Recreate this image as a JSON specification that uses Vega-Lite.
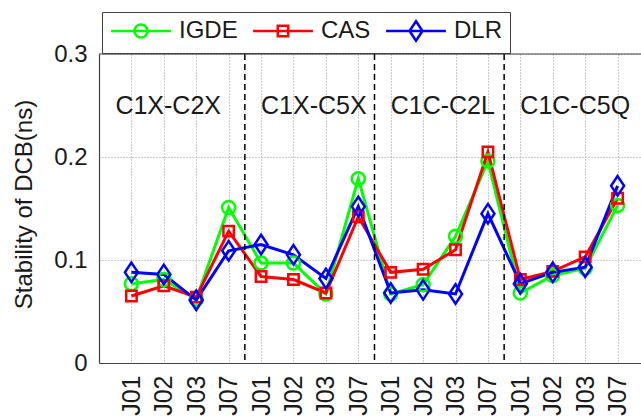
{
  "$schema": "https://vega.github.io/schema/vega-lite/v6.json",
  "width": 542,
  "height": 309,
  "autosize": "none",
  "padding": {"left": 99, "top": 54, "right": 0, "bottom": 55},
  "background": "white",
  "config": {
    "view": {"stroke": null},
    "font": "Liberation Sans",
    "legend": {"symbolOpacity": 1},
    "axisX": {
      "labelAngle": -90, "labelFontSize": 25, "labelColor": "#1a1a1a", "labelPadding": 12,
      "ticks": false, "domain": true, "domainColor": "#404040", "domainWidth": 1.2,
      "grid": true, "gridDash": [1, 2], "gridColor": "#9a9a9a", "gridWidth": 1
    },
    "axisY": {
      "labelFontSize": 24, "labelColor": "#1a1a1a", "labelPadding": 12,
      "ticks": false, "domain": true, "domainColor": "#404040", "domainWidth": 1.2,
      "grid": true, "gridDash": [1, 2], "gridColor": "#9a9a9a", "gridWidth": 1
    }
  },
  "datasets": {
    "dcb": [
      {"key": "C1X-C2X J01", "series": "IGDE", "dcb": 0.077},
      {"key": "C1X-C2X J02", "series": "IGDE", "dcb": 0.081},
      {"key": "C1X-C2X J03", "series": "IGDE", "dcb": 0.062},
      {"key": "C1X-C2X J07", "series": "IGDE", "dcb": 0.151},
      {"key": "C1X-C5X J01", "series": "IGDE", "dcb": 0.097},
      {"key": "C1X-C5X J02", "series": "IGDE", "dcb": 0.097},
      {"key": "C1X-C5X J03", "series": "IGDE", "dcb": 0.067},
      {"key": "C1X-C5X J07", "series": "IGDE", "dcb": 0.179},
      {"key": "C1C-C2L J01", "series": "IGDE", "dcb": 0.067},
      {"key": "C1C-C2L J02", "series": "IGDE", "dcb": 0.076},
      {"key": "C1C-C2L J03", "series": "IGDE", "dcb": 0.123},
      {"key": "C1C-C2L J07", "series": "IGDE", "dcb": 0.196},
      {"key": "C1C-C5Q J01", "series": "IGDE", "dcb": 0.068},
      {"key": "C1C-C5Q J02", "series": "IGDE", "dcb": 0.085},
      {"key": "C1C-C5Q J03", "series": "IGDE", "dcb": 0.092},
      {"key": "C1C-C5Q J07", "series": "IGDE", "dcb": 0.153},
      {"key": "C1X-C2X J01", "series": "CAS", "dcb": 0.065},
      {"key": "C1X-C2X J02", "series": "CAS", "dcb": 0.075},
      {"key": "C1X-C2X J03", "series": "CAS", "dcb": 0.064},
      {"key": "C1X-C2X J07", "series": "CAS", "dcb": 0.128},
      {"key": "C1X-C5X J01", "series": "CAS", "dcb": 0.084},
      {"key": "C1X-C5X J02", "series": "CAS", "dcb": 0.081},
      {"key": "C1X-C5X J03", "series": "CAS", "dcb": 0.068},
      {"key": "C1X-C5X J07", "series": "CAS", "dcb": 0.142},
      {"key": "C1C-C2L J01", "series": "CAS", "dcb": 0.088},
      {"key": "C1C-C2L J02", "series": "CAS", "dcb": 0.091},
      {"key": "C1C-C2L J03", "series": "CAS", "dcb": 0.110},
      {"key": "C1C-C2L J07", "series": "CAS", "dcb": 0.205},
      {"key": "C1C-C5Q J01", "series": "CAS", "dcb": 0.081},
      {"key": "C1C-C5Q J02", "series": "CAS", "dcb": 0.089},
      {"key": "C1C-C5Q J03", "series": "CAS", "dcb": 0.103},
      {"key": "C1C-C5Q J07", "series": "CAS", "dcb": 0.160},
      {"key": "C1X-C2X J01", "series": "DLR", "dcb": 0.088},
      {"key": "C1X-C2X J02", "series": "DLR", "dcb": 0.086},
      {"key": "C1X-C2X J03", "series": "DLR", "dcb": 0.061},
      {"key": "C1X-C2X J07", "series": "DLR", "dcb": 0.109},
      {"key": "C1X-C5X J01", "series": "DLR", "dcb": 0.115},
      {"key": "C1X-C5X J02", "series": "DLR", "dcb": 0.105},
      {"key": "C1X-C5X J03", "series": "DLR", "dcb": 0.082},
      {"key": "C1X-C5X J07", "series": "DLR", "dcb": 0.152},
      {"key": "C1C-C2L J01", "series": "DLR", "dcb": 0.068},
      {"key": "C1C-C2L J02", "series": "DLR", "dcb": 0.071},
      {"key": "C1C-C2L J03", "series": "DLR", "dcb": 0.067},
      {"key": "C1C-C2L J07", "series": "DLR", "dcb": 0.145},
      {"key": "C1C-C5Q J01", "series": "DLR", "dcb": 0.077},
      {"key": "C1C-C5Q J02", "series": "DLR", "dcb": 0.088},
      {"key": "C1C-C5Q J03", "series": "DLR", "dcb": 0.093},
      {"key": "C1C-C5Q J07", "series": "DLR", "dcb": 0.172}
    ],
    "seps": [
      {"key": "C1X-C2X J07"},
      {"key": "C1X-C5X J07"},
      {"key": "C1C-C2L J07"}
    ],
    "firstGroup": [
      {"key": "C1X-C2X J01", "label": "C1X-C2X"}
    ],
    "otherGroups": [
      {"key": "C1X-C5X J01", "label": "C1X-C5X"},
      {"key": "C1C-C2L J01", "label": "C1C-C2L"},
      {"key": "C1C-C5Q J01", "label": "C1C-C5Q"}
    ],
    "frame": [{"top": 0.3}]
  },
  "layer": [
    {
      "data": {"name": "dcb"},
      "mark": {"type": "line", "strokeWidth": 3},
      "encoding": {
        "x": {
          "field": "key", "type": "nominal",
          "scale": {"type": "point", "padding": 1, "range": [0, 551],
            "domain": ["C1X-C2X J01","C1X-C2X J02","C1X-C2X J03","C1X-C2X J07","C1X-C5X J01","C1X-C5X J02","C1X-C5X J03","C1X-C5X J07","C1C-C2L J01","C1C-C2L J02","C1C-C2L J03","C1C-C2L J07","C1C-C5Q J01","C1C-C5Q J02","C1C-C5Q J03","C1C-C5Q J07"]},
          "axis": {
            "title": null, "labelExpr": "slice(datum.value, -3)", "labelAngle": -90,
            "labelFontSize": 25, "labelPadding": 12, "grid": true, "ticks": false
          }
        },
        "y": {
          "field": "dcb", "type": "quantitative",
          "scale": {"domain": [0, 0.3], "nice": false, "zero": true},
          "axis": {
            "title": "Stability of DCB(ns)", "titleFontSize": 24, "titleFontWeight": "normal",
            "titleColor": "#1a1a1a", "titleAngle": -90, "titleX": -75, "titleY": 150,
            "titleAlign": "center", "titleBaseline": "middle",
            "values": [0, 0.1, 0.2, 0.3],
            "labelExpr": "datum.value == 0 ? '0' : format(datum.value, '.1f')",
            "labelFontSize": 24, "labelPadding": 12, "grid": true, "ticks": false
          }
        },
        "color": {
          "field": "series", "type": "nominal",
          "scale": {"domain": ["IGDE", "CAS", "DLR"], "range": ["#00ff00", "#ff0000", "#0000ff"]},
          "legend": {
            "title": null, "orient": "none", "legendX": 3, "legendY": -42,
            "direction": "horizontal", "gridAlign": "none", "strokeColor": "#404040", "fillColor": "white",
            "padding": 7, "labelFontSize": 24, "labelColor": "#1a1a1a",
            "symbolSize": 169, "symbolStrokeWidth": 2.5, "symbolOffset": 20,
            "labelOffset": 26, "columnPadding": 10,
            "encode": {
              "symbols": {
                "update": {
                  "shape": {"signal": "datum.value == 'IGDE' ? 'M-4.6,0L4.6,0M-1,0A1,1 0 1,0 1,0A1,1 0 1,0 -1,0' : datum.value == 'CAS' ? 'M-4.6,0L4.6,0M-0.8,-0.8L0.8,-0.8L0.8,0.8L-0.8,0.8Z' : 'M-4.6,0L4.6,0M0,-1.5L1,0L0,1.5L-1,0Z'"},
                  "fill": {"value": "transparent"},
                  "strokeWidth": {"value": 2.5},
                  "opacity": {"value": 1}
                }
              }
            }
          }
        }
      }
    },
    {
      "data": {"name": "dcb"},
      "mark": {"type": "point", "filled": false, "strokeWidth": 2.5, "size": 169, "opacity": 1},
      "encoding": {
        "x": {"field": "key", "type": "nominal"},
        "y": {"field": "dcb", "type": "quantitative"},
        "color": {"field": "series", "type": "nominal"},
        "shape": {
          "field": "series", "type": "nominal", "legend": null,
          "scale": {"domain": ["CAS", "DLR", "IGDE"], "range": ["M-0.8,-0.8L0.8,-0.8L0.8,0.8L-0.8,0.8Z", "M0,-1.5L1,0L0,1.5L-1,0Z", "circle"]}
        }
      }
    },
    {
      "data": {"name": "seps"},
      "mark": {"type": "rule", "color": "#000000", "strokeWidth": 1.5, "strokeDash": [6, 4], "xOffset": 16.2},
      "encoding": {
        "x": {"field": "key", "type": "nominal"}
      }
    },
    {
      "data": {"name": "frame"},
      "mark": {"type": "rule", "color": "#404040", "strokeWidth": 1.2},
      "encoding": {
        "y": {"field": "top", "type": "quantitative"}
      }
    },
    {
      "data": {"name": "firstGroup"},
      "mark": {"type": "text", "align": "left", "baseline": "middle", "fontSize": 25, "color": "#1a1a1a", "dx": -16},
      "encoding": {
        "x": {"field": "key", "type": "nominal"},
        "y": {"datum": 0.25, "type": "quantitative"},
        "text": {"field": "label"}
      }
    },
    {
      "data": {"name": "otherGroups"},
      "mark": {"type": "text", "align": "left", "baseline": "middle", "fontSize": 25, "color": "#1a1a1a", "dx": 0},
      "encoding": {
        "x": {"field": "key", "type": "nominal"},
        "y": {"datum": 0.25, "type": "quantitative"},
        "text": {"field": "label"}
      }
    }
  ]
}
